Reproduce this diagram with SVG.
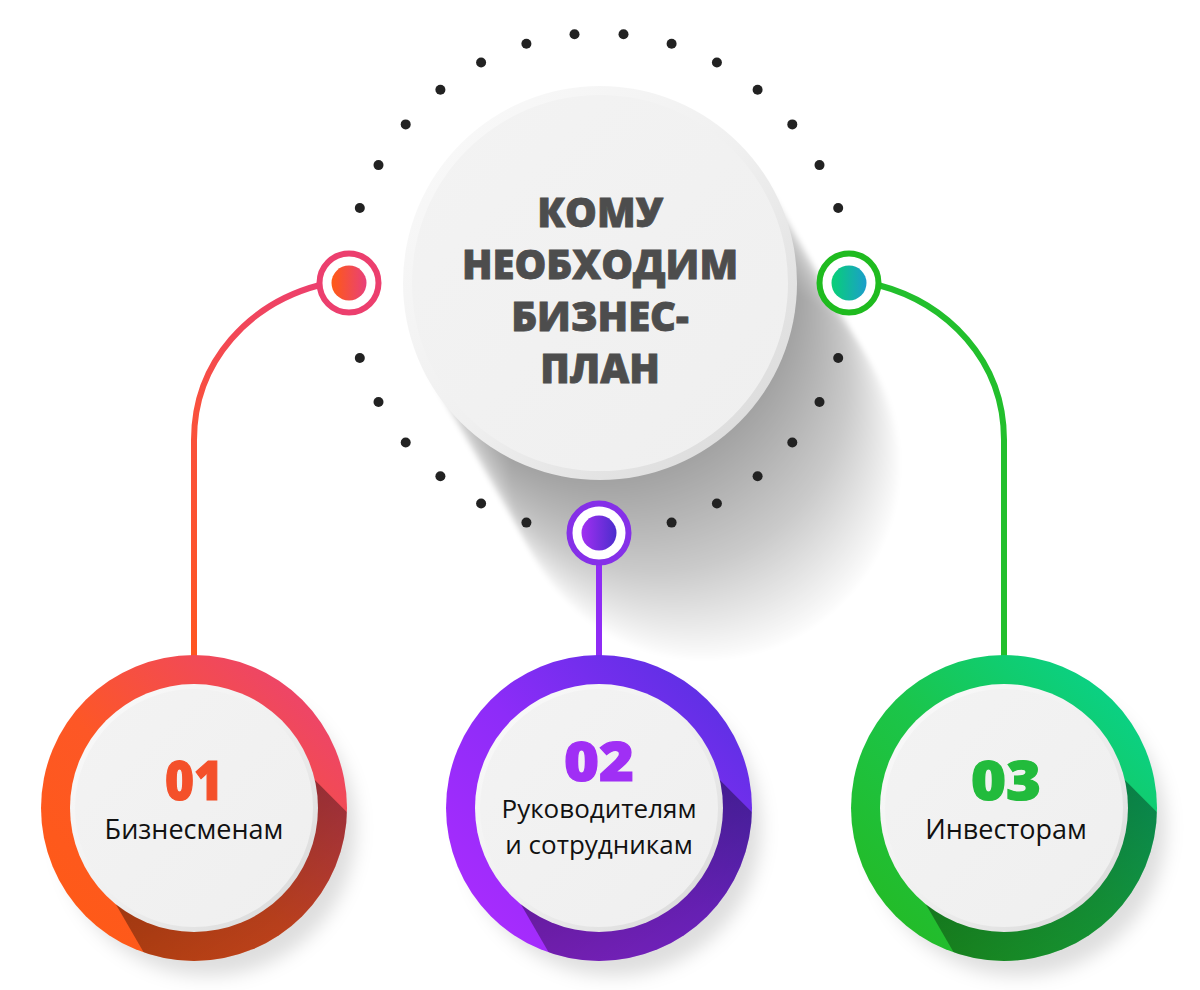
<svg xmlns="http://www.w3.org/2000/svg" width="1200" height="990" viewBox="0 0 1200 990">
<style>
.dot{fill:#222222}
.head{font-family:"Open Sans","Liberation Sans",sans-serif;font-weight:800;font-size:40px;fill:#4d4d4d;stroke:#4d4d4d;stroke-width:0.8;text-anchor:middle}
.num{font-family:"Open Sans","Liberation Sans",sans-serif;font-weight:800;font-size:54px;stroke-width:1.2;text-anchor:middle}
.lbl{font-family:"Open Sans","Liberation Sans",sans-serif;font-weight:400;font-size:27px;fill:#111111;text-anchor:middle}
.conn{fill:none;stroke-width:6}
.sh{fill:#000000;fill-opacity:0.019}
</style>
<defs>
<filter id="blurC" x="-30%" y="-30%" width="160%" height="160%"><feGaussianBlur stdDeviation="2.5"/></filter>
<filter id="blurB" x="-30%" y="-30%" width="160%" height="160%"><feGaussianBlur stdDeviation="9"/></filter>
<linearGradient id="rim" x1="0" y1="0" x2="1" y2="1">
<stop offset="0" stop-color="#fbfbfb"/><stop offset="0.5" stop-color="#f0f0f0"/><stop offset="1" stop-color="#d6d6d6"/>
</linearGradient>
<linearGradient id="face" x1="0" y1="0" x2="1" y2="1">
<stop offset="0" stop-color="#f3f3f3"/><stop offset="1" stop-color="#efefef"/>
</linearGradient>
<linearGradient id="gRed" x1="0" y1="1" x2="1" y2="0">
<stop offset="0" stop-color="#ff5b12"/><stop offset="0.45" stop-color="#fd5726"/><stop offset="1" stop-color="#e83f7e"/>
</linearGradient>
<linearGradient id="gPur" x1="0" y1="1" x2="1" y2="0">
<stop offset="0" stop-color="#b02cff"/><stop offset="0.5" stop-color="#8d2cf8"/><stop offset="1" stop-color="#4f31de"/>
</linearGradient>
<linearGradient id="gGrn" x1="0" y1="1" x2="1" y2="0">
<stop offset="0" stop-color="#26b81c"/><stop offset="0.5" stop-color="#1bc54a"/><stop offset="1" stop-color="#04d59a"/>
</linearGradient>
<linearGradient id="dRed" x1="0" y1="0" x2="1" y2="0">
<stop offset="0" stop-color="#ff5a14"/><stop offset="1" stop-color="#e8407a"/>
</linearGradient>
<linearGradient id="dPur" x1="0" y1="0" x2="1" y2="0">
<stop offset="0" stop-color="#a22ff2"/><stop offset="1" stop-color="#4b2dcc"/>
</linearGradient>
<linearGradient id="dGrn" x1="0" y1="0" x2="1" y2="0">
<stop offset="0" stop-color="#08d076"/><stop offset="1" stop-color="#1b9ecb"/>
</linearGradient>
<linearGradient id="cRed" gradientUnits="userSpaceOnUse" x1="330" y1="285" x2="194" y2="655">
<stop offset="0" stop-color="#ec3f6e"/><stop offset="0.4" stop-color="#f9503e"/><stop offset="1" stop-color="#ff5520"/>
</linearGradient>
<linearGradient id="shInner" gradientUnits="userSpaceOnUse" x1="0" y1="0" x2="100" y2="173.2">
<stop offset="0" stop-color="#000" stop-opacity="0.42"/>
<stop offset="1" stop-color="#000" stop-opacity="0.22"/>
</linearGradient>
<clipPath id="ringClip" clipPathUnits="userSpaceOnUse"><circle cx="0" cy="0" r="153"/></clipPath>
</defs>

<g id="center-shadow" filter="url(#blurC)">
<circle class="sh" cx="604" cy="289.9" r="195"/>
<circle class="sh" cx="608" cy="296.9" r="195"/>
<circle class="sh" cx="612" cy="303.8" r="195"/>
<circle class="sh" cx="616" cy="310.7" r="195"/>
<circle class="sh" cx="620" cy="317.6" r="195"/>
<circle class="sh" cx="624" cy="324.6" r="195"/>
<circle class="sh" cx="628" cy="331.5" r="195"/>
<circle class="sh" cx="632" cy="338.4" r="195"/>
<circle class="sh" cx="636" cy="345.4" r="195"/>
<circle class="sh" cx="640" cy="352.3" r="195"/>
<circle class="sh" cx="644" cy="359.2" r="195"/>
<circle class="sh" cx="648" cy="366.1" r="195"/>
<circle class="sh" cx="652" cy="373.1" r="195"/>
<circle class="sh" cx="656" cy="380" r="195"/>
<circle class="sh" cx="660" cy="386.9" r="195"/>
<circle class="sh" cx="664" cy="393.8" r="195"/>
<circle class="sh" cx="668" cy="400.8" r="195"/>
<circle class="sh" cx="672" cy="407.7" r="195"/>
<circle class="sh" cx="676" cy="414.6" r="195"/>
<circle class="sh" cx="680" cy="421.6" r="195"/>
<circle class="sh" cx="684" cy="428.5" r="195"/>
<circle class="sh" cx="688" cy="435.4" r="195"/>
<circle class="sh" cx="692" cy="442.3" r="195"/>
<circle class="sh" cx="696" cy="449.3" r="195"/>
<circle class="sh" cx="700" cy="456.2" r="195"/>
<circle class="sh" cx="704" cy="463.1" r="195"/>
</g>

<g id="dots">
<circle class="dot" cx="623.5" cy="34.2" r="5"/><circle class="dot" cx="574.5" cy="34.2" r="5"/>
<circle class="dot" cx="671.6" cy="43.8" r="5"/><circle class="dot" cx="526.4" cy="43.8" r="5"/>
<circle class="dot" cx="716.9" cy="62.5" r="5"/><circle class="dot" cx="481.1" cy="62.5" r="5"/>
<circle class="dot" cx="757.6" cy="89.7" r="5"/><circle class="dot" cx="440.4" cy="89.7" r="5"/>
<circle class="dot" cx="792.3" cy="124.4" r="5"/><circle class="dot" cx="405.7" cy="124.4" r="5"/>
<circle class="dot" cx="819.5" cy="165.1" r="5"/><circle class="dot" cx="378.5" cy="165.1" r="5"/>
<circle class="dot" cx="838.2" cy="208" r="5"/><circle class="dot" cx="359.8" cy="208" r="5"/>
<circle class="dot" cx="838.2" cy="358" r="5"/><circle class="dot" cx="359.8" cy="358" r="5"/>
<circle class="dot" cx="819.5" cy="402" r="5"/><circle class="dot" cx="378.5" cy="402" r="5"/>
<circle class="dot" cx="792.3" cy="442.5" r="5"/><circle class="dot" cx="405.7" cy="442.5" r="5"/>
<circle class="dot" cx="757.6" cy="476.3" r="5"/><circle class="dot" cx="440.4" cy="476.3" r="5"/>
<circle class="dot" cx="716.9" cy="503.5" r="5"/><circle class="dot" cx="481.1" cy="503.5" r="5"/>
<circle class="dot" cx="671.6" cy="522.6" r="5"/><circle class="dot" cx="526.4" cy="522.6" r="5"/>
</g>

<g id="connectors">
<path class="conn" stroke="url(#cRed)" d="M320,285 C251,303 194,360 194,440 L194,660"/>
<path class="conn" stroke="#8f2cf5" d="M599,560 L599,660"/>
<path class="conn" stroke="#22bf2c" d="M878,285 C947,303 1004,360 1004,440 L1004,660"/>
</g>

<g id="anchor-1">
<circle cx="349" cy="283" r="29.5" fill="#ffffff" stroke="#ec3f6e" stroke-width="6"/>
<circle cx="349" cy="283" r="17.5" fill="url(#dRed)"/>
</g>
<g id="anchor-2">
<circle cx="599" cy="533" r="29.5" fill="#ffffff" stroke="#8530e8" stroke-width="6"/>
<circle cx="599" cy="533" r="17.5" fill="url(#dPur)"/>
</g>
<g id="anchor-3">
<circle cx="849" cy="283" r="29.5" fill="#ffffff" stroke="#1fbb1f" stroke-width="6"/>
<circle cx="849" cy="283" r="17.5" fill="url(#dGrn)"/>
</g>

<g id="center-node">
<circle cx="600" cy="283" r="197" fill="url(#rim)"/>
<circle cx="600" cy="283" r="188" fill="url(#face)"/>
<text class="head" x="600" y="227">КОМУ</text>
<text class="head" x="600" y="279">НЕОБХОДИМ</text>
<text class="head" x="600" y="331">БИЗНЕС-</text>
<text class="head" x="600" y="383">ПЛАН</text>
</g>

<g id="node-1" transform="translate(194,808)">
<circle cx="14" cy="20" r="148" fill="#000" fill-opacity="0.13" filter="url(#blurB)"/>
<circle r="153" fill="url(#gRed)"/>
<polygon points="120.8,-27.9 190.8,42.1 150,150 -28,183 -78,96.4 0,0" fill="url(#shInner)" clip-path="url(#ringClip)"/>
<circle r="124" fill="url(#rim)"/>
<circle r="119" fill="url(#face)"/>
<text class="num" x="0" y="-8" fill="#f4502a" stroke="#f4502a" textLength="58" lengthAdjust="spacingAndGlyphs">01</text>
<text class="lbl" x="0" y="31">Бизнесменам</text>
</g>

<g id="node-2" transform="translate(599,808)">
<circle cx="14" cy="20" r="148" fill="#000" fill-opacity="0.13" filter="url(#blurB)"/>
<circle r="153" fill="url(#gPur)"/>
<polygon points="120.8,-27.9 190.8,42.1 150,150 -28,183 -78,96.4 0,0" fill="url(#shInner)" clip-path="url(#ringClip)"/>
<circle r="124" fill="url(#rim)"/>
<circle r="119" fill="url(#face)"/>
<text class="num" x="0" y="-27" fill="#a02ff5" stroke="#a02ff5" textLength="70" lengthAdjust="spacingAndGlyphs">02</text>
<text class="lbl" style="font-size:26px" x="0" y="10"><tspan x="0" y="10">Руководителям</tspan><tspan x="0" y="46">и сотрудникам</tspan></text>
</g>

<g id="node-3" transform="translate(1004,808)">
<circle cx="14" cy="20" r="148" fill="#000" fill-opacity="0.13" filter="url(#blurB)"/>
<circle r="153" fill="url(#gGrn)"/>
<polygon points="120.8,-27.9 190.8,42.1 150,150 -28,183 -78,96.4 0,0" fill="url(#shInner)" clip-path="url(#ringClip)"/>
<circle r="124" fill="url(#rim)"/>
<circle r="119" fill="url(#face)"/>
<text class="num" x="2" y="-8" fill="#22bb3c" stroke="#22bb3c" textLength="70" lengthAdjust="spacingAndGlyphs">03</text>
<text class="lbl" x="2" y="31">Инвесторам</text>
</g>
</svg>
